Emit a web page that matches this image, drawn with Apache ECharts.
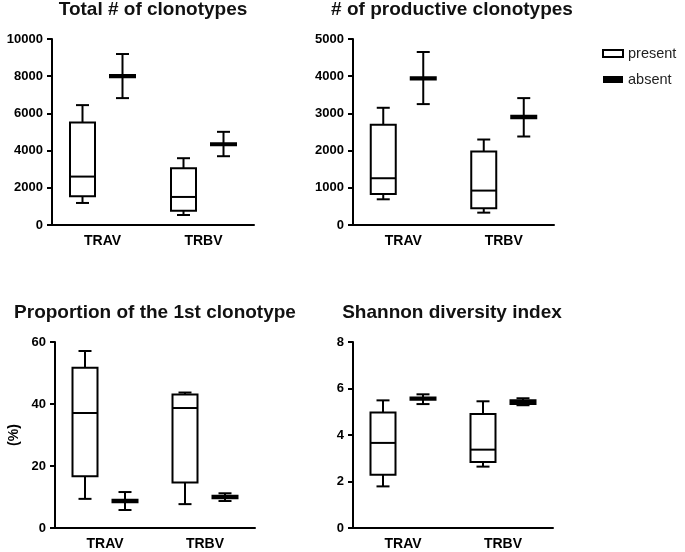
<!DOCTYPE html>
<html><head><meta charset="utf-8">
<script src="https://cdn.jsdelivr.net/npm/echarts@6/dist/echarts.min.js"></script>
<style>html,body{margin:0;padding:0;background:#fff}#c{width:685px;height:552px}</style>
</head><body><div id="c"></div>
<script>
const categories = ['TRAV', 'TRBV'];
// each box: [min, Q1, median, Q3, max]
const totalPresent = [[1185, 1544, 2603, 5512, 6445], [539, 772, 1508, 3052, 3591]];
const totalAbsent  = [[6822, 7940, 8007, 8070, 9192], [3698, 4290, 4345, 4400, 5009]];
const prodPresent  = [[691, 835, 1257, 2693, 3151], [332, 449, 925, 1975, 2298]];
const prodAbsent   = [[3250, 3910, 3941, 3975, 4650], [2379, 2870, 2900, 2935, 3411]];
const propPresent  = [[9.4, 16.7, 37.1, 51.7, 57.1], [7.7, 14.7, 38.7, 43.1, 43.7]];
const propAbsent   = [[5.8, 8.3, 8.7, 9.1, 11.6], [8.7, 9.6, 10.0, 10.4, 11.2]];
const shanPresent  = [[1.79, 2.29, 3.66, 4.97, 5.49], [2.64, 2.84, 3.37, 4.90, 5.45]];
const shanAbsent   = [[5.33, 5.52, 5.56, 5.61, 5.75], [5.28, 5.33, 5.40, 5.50, 5.58]];
const titles = ['Total # of clonotypes', '# of productive clonotypes', 'Proportion of the 1st clonotype', 'Shannon diversity index'];
const yMax = [10000, 5000, 60, 8];
const yStep = [2000, 1000, 20, 2];
const yNames = ['', '', '(%)', ''];

const FONT = '"Liberation Sans", Arial, sans-serif';
const grids = [
  {left: 52, top: 39, width: 202, height: 186},
  {left: 353, top: 39, width: 201, height: 186},
  {left: 55, top: 342, width: 200, height: 186},
  {left: 353, top: 342, width: 200, height: 186}
];
const titlePos = [[153, 10], [452, 10], [155, 313], [452, 313]];

function boxRender(offset, filled) {
  return function (params, api) {
    const ci = api.value(0);
    const x = api.coord([ci, 0])[0] + offset;
    const y = v => api.coord([ci, v])[1];
    const mn = y(api.value(1)), q1 = y(api.value(2)), md = y(api.value(3)), q3 = y(api.value(4)), mx = y(api.value(5));
    const hb = 12.5, hc = 6.5;
    const ls = {stroke: '#000', lineWidth: 2, fill: null};
    const ch = [
      {type: 'line', shape: {x1: x, y1: mx, x2: x, y2: q3}, style: ls},
      {type: 'line', shape: {x1: x, y1: q1, x2: x, y2: mn}, style: ls},
      {type: 'line', shape: {x1: x - hc, y1: mx, x2: x + hc, y2: mx}, style: ls},
      {type: 'line', shape: {x1: x - hc, y1: mn, x2: x + hc, y2: mn}, style: ls},
      {type: 'rect', shape: {x: x - hb, y: q3, width: hb * 2, height: q1 - q3},
        style: {fill: filled ? '#000' : '#fff', stroke: '#000', lineWidth: 2}},
      {type: 'line', shape: {x1: x - hb, y1: md, x2: x + hb, y2: md}, style: ls}
    ];
    return {type: 'group', children: ch};
  };
}

const panels = [[totalPresent, totalAbsent], [prodPresent, prodAbsent], [propPresent, propAbsent], [shanPresent, shanAbsent]];
const series = [];
panels.forEach((p, i) => {
  [['present', p[0], -20, false], ['absent', p[1], 20, true]].forEach(([name, arr, off, filled]) => {
    series.push({
      type: 'custom', name: name, xAxisIndex: i, yAxisIndex: i,
      renderItem: boxRender(off, filled),
      itemStyle: {color: filled ? '#000' : '#fff', borderColor: '#000'},
      encode: {x: 0, y: [1, 2, 3, 4, 5]},
      data: arr.map((b, k) => [k].concat(b)),
      animation: false
    });
  });
});

const option = {
  animation: false,
  grid: grids,
  xAxis: grids.map((g, i) => ({
    type: 'category', gridIndex: i, data: categories,
    axisLine: {lineStyle: {color: '#000', width: 2}},
    axisTick: {alignWithLabel: true, length: 5, lineStyle: {color: '#000', width: 2}},
    axisLabel: {color: '#000', fontWeight: 'bold', fontSize: 14, fontFamily: FONT, margin: 9}
  })),
  yAxis: grids.map((g, i) => ({
    type: 'value', gridIndex: i, min: 0, max: yMax[i], interval: yStep[i],
    name: yNames[i], nameLocation: 'middle', nameRotate: 90, nameGap: 34,
    nameTextStyle: {color: '#000', fontWeight: 'bold', fontSize: 14, fontFamily: FONT},
    splitLine: {show: false},
    axisLine: {show: true, lineStyle: {color: '#000', width: 2}},
    axisTick: {show: true, length: 5, lineStyle: {color: '#000', width: 2}},
    axisLabel: {color: '#000', fontWeight: 'bold', fontSize: 13, fontFamily: FONT, margin: 9,
      formatter: v => String(v)}
  })),
  legend: {
    orient: 'vertical', left: 597, top: 41, itemWidth: 20, itemHeight: 7, itemGap: 11,
    icon: 'rect', selectedMode: false,
    textStyle: {color: '#222', fontSize: 14.5, fontFamily: FONT},
    data: [
      {name: 'present', itemStyle: {color: '#fff', borderColor: '#000', borderWidth: 2}},
      {name: 'absent', itemStyle: {color: '#000', borderColor: '#000', borderWidth: 0}}
    ]
  },
  graphic: titles.map((t, i) => ({
    type: 'text', x: titlePos[i][0], y: titlePos[i][1],
    style: {text: t, fill: '#111', font: 'bold 19px ' + FONT, textAlign: 'center', textVerticalAlign: 'middle'}
  })),
  series: series
};
const chart = echarts.init(document.getElementById('c'), null, {renderer: 'canvas'});
chart.setOption(option);
</script></body></html>
